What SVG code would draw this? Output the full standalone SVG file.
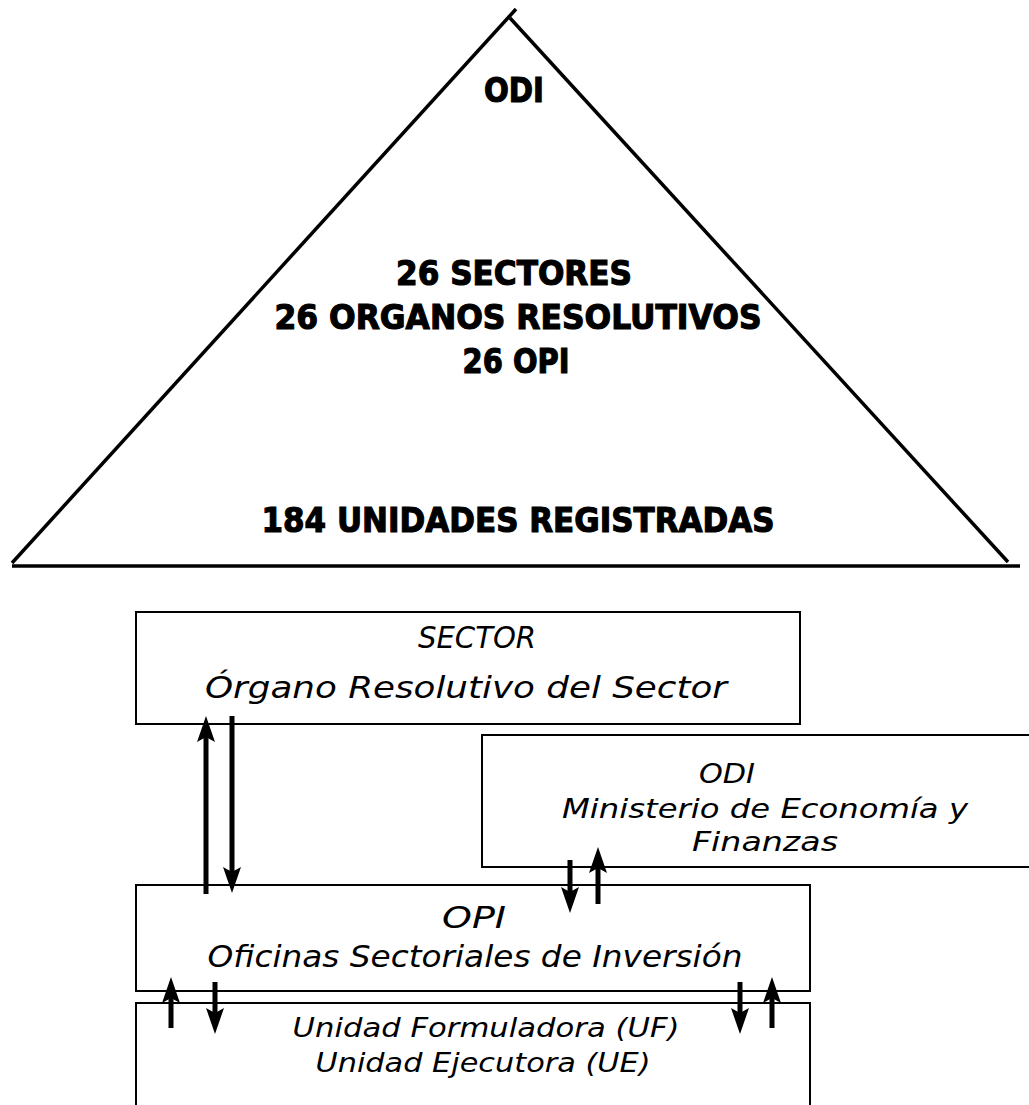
<svg xmlns="http://www.w3.org/2000/svg" width="1029" height="1105" viewBox="0 0 1029 1105">
<style>
.tri{fill:none;stroke:#000;stroke-width:3.5;}
.box{fill:#fff;stroke:#000;stroke-width:2;}
.b{font-family:"DejaVu Sans",Verdana,sans-serif;font-weight:bold;font-size:34px;fill:#000;stroke:#000;stroke-width:1.2;text-anchor:middle;}
.i{font-family:"DejaVu Sans",Verdana,sans-serif;font-style:italic;font-size:30px;fill:#000;text-anchor:middle;}
.m{font-size:27px;}
.s{font-size:27px;}
.ar{stroke:#000;stroke-width:5;fill:none;marker-end:url(#ah);}
</style>
<defs>
<marker id="ah" markerUnits="userSpaceOnUse" markerWidth="26" markerHeight="18" refX="16" refY="9" orient="auto" viewBox="0 0 26 18">
<path d="M0,0 L26,9 L0,18 L5,9 Z" fill="#000"/>
</marker>
</defs>
<g id="pyramid">
<line class="tri" x1="12" y1="563" x2="516" y2="9"/>
<line class="tri" x1="510" y1="18" x2="1008" y2="562"/>
<line class="tri" x1="12" y1="566" x2="1020" y2="566"/>
<text class="b" x="514" y="102" textLength="60" lengthAdjust="spacingAndGlyphs">ODI</text>
<text class="b" x="514" y="285" textLength="236" lengthAdjust="spacingAndGlyphs">26 SECTORES</text>
<text class="b" x="518" y="329" textLength="487" lengthAdjust="spacingAndGlyphs">26 ORGANOS RESOLUTIVOS</text>
<text class="b" x="516" y="373" textLength="107" lengthAdjust="spacingAndGlyphs">26 OPI</text>
<text class="b" x="518" y="532" textLength="513" lengthAdjust="spacingAndGlyphs">184 UNIDADES REGISTRADAS</text>
</g>
<g id="sector">
<rect class="box" x="136" y="612" width="664" height="112"/>
<text class="i" x="477" y="648" textLength="118" lengthAdjust="spacingAndGlyphs">SECTOR</text>
<text class="i" x="466" y="698" textLength="522" lengthAdjust="spacingAndGlyphs">Órgano Resolutivo del Sector</text>
</g>
<g id="odi">
<rect class="box" x="482" y="735" width="560" height="132"/>
<text class="i m" x="727" y="783" textLength="56" lengthAdjust="spacingAndGlyphs">ODI</text>
<text class="i m" x="765" y="818" textLength="406" lengthAdjust="spacingAndGlyphs">Ministerio de Economía y</text>
<text class="i m" x="765" y="851" textLength="146" lengthAdjust="spacingAndGlyphs">Finanzas</text>
</g>
<g id="opi">
<rect class="box" x="136" y="885" width="674" height="106"/>
<text class="i" x="474" y="928" textLength="64" lengthAdjust="spacingAndGlyphs">OPI</text>
<text class="i" x="475" y="967" textLength="535" lengthAdjust="spacingAndGlyphs">Oficinas Sectoriales de Inversión</text>
</g>
<g id="uf">
<rect class="box" x="136" y="1003" width="674" height="120"/>
<text class="i s" x="486" y="1037" textLength="387" lengthAdjust="spacingAndGlyphs">Unidad Formuladora (UF)</text>
<text class="i s" x="483" y="1072" textLength="335" lengthAdjust="spacingAndGlyphs">Unidad Ejecutora (UE)</text>
</g>
<g id="connectors">
<line class="ar" x1="206" y1="894" x2="206" y2="726"/>
<line class="ar" x1="232" y1="716" x2="232" y2="883"/>
<line class="ar" x1="570" y1="860" x2="570" y2="903"/>
<line class="ar" x1="598" y1="904" x2="598" y2="857"/>
<line class="ar" x1="171" y1="1028" x2="171" y2="987"/>
<line class="ar" x1="215" y1="982" x2="215" y2="1024"/>
<line class="ar" x1="740" y1="982" x2="740" y2="1024"/>
<line class="ar" x1="772" y1="1028" x2="772" y2="987"/>
</g>
</svg>
